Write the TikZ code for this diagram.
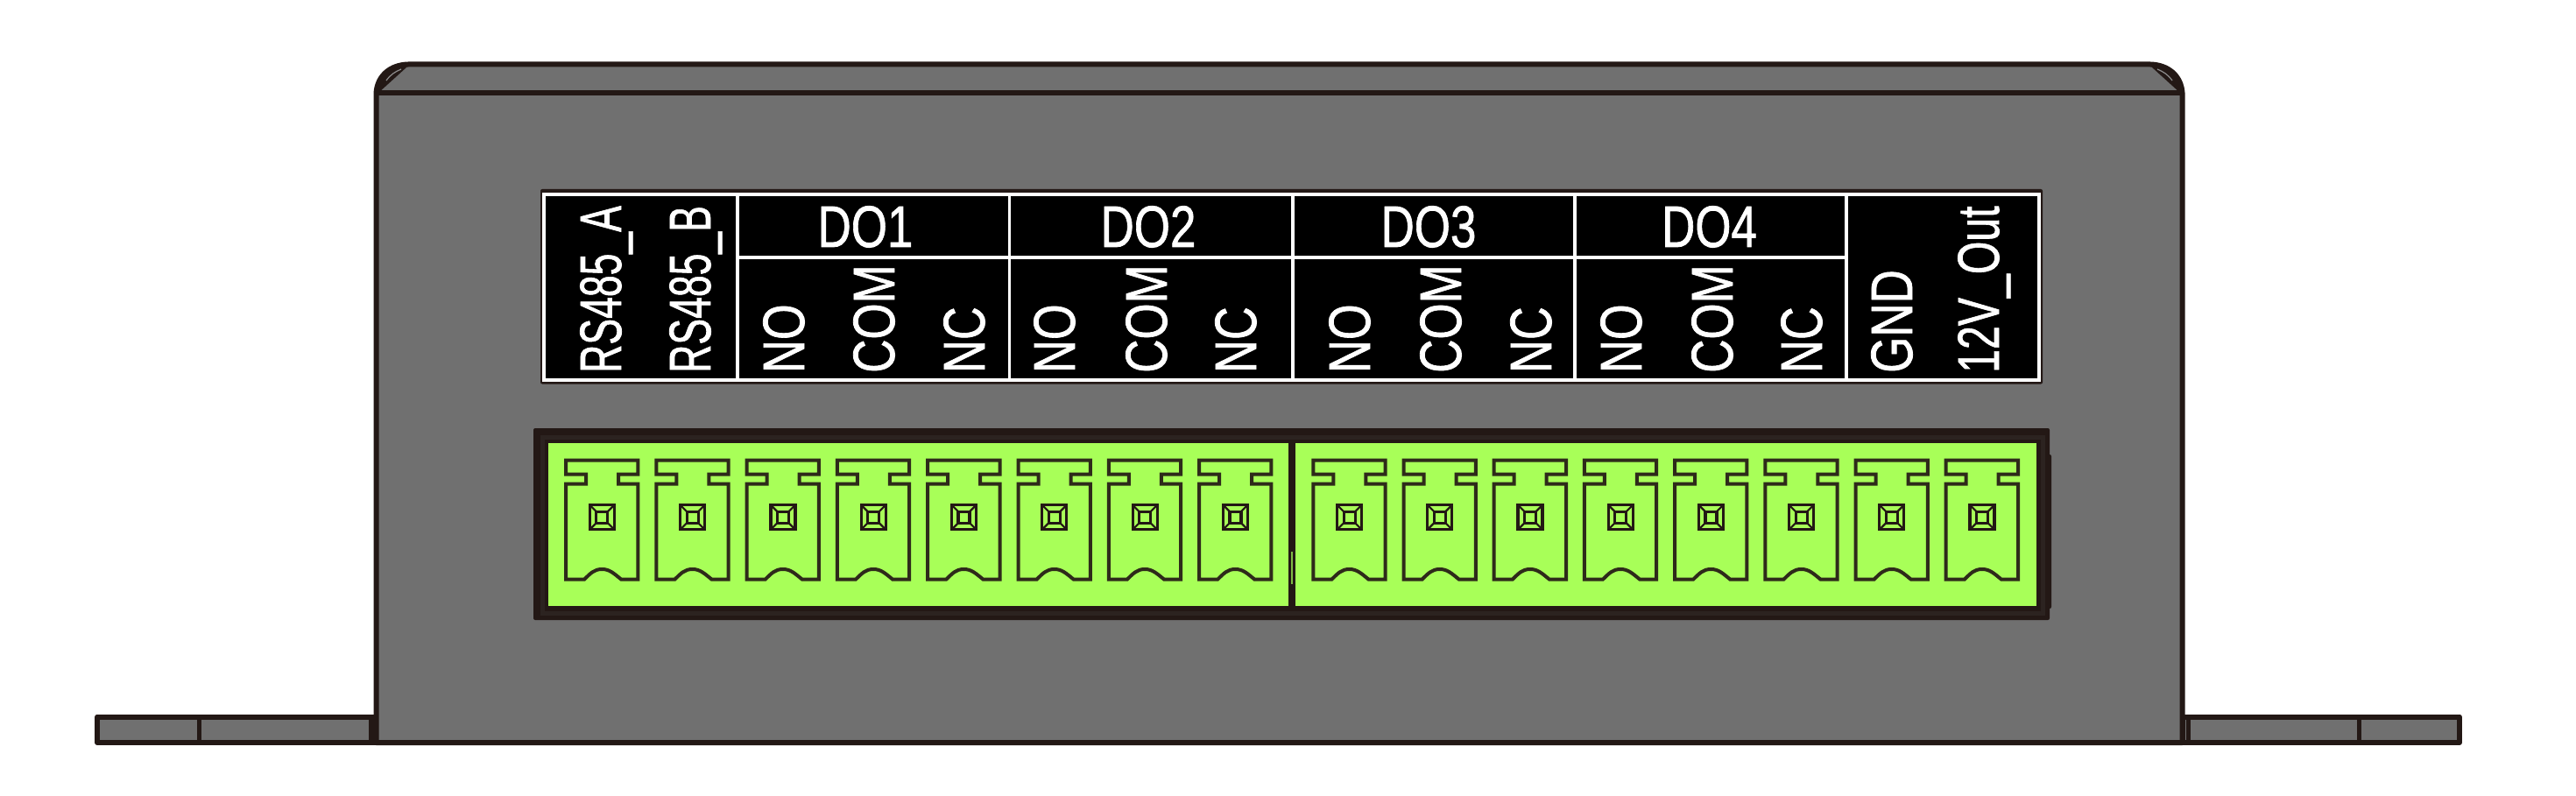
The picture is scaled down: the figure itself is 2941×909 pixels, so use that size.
\documentclass[tikz,border=0pt]{standalone}
\usepackage{fontspec}
\setmainfont[FakeBold=1.2]{Liberation Sans}
\definecolor{bodygrey}{HTML}{707070}
\definecolor{ink}{HTML}{231815}
\definecolor{inkb}{HTML}{2C2320}
\definecolor{termgreen}{HTML}{A8FF58}
\newcommand{\lab}[2]{\scalebox{#1}[1]{#2}}
\tikzset{
  x=1pt,y=-1pt,
  housing/.style={draw=ink,line width=6pt,fill=bodygrey,line join=round},
  flange/.style={draw=ink,line width=6pt,fill=bodygrey,line join=round},
  gridline/.style={draw=white,line width=3.5pt},
  tlabel/.style={text=white,inner sep=0pt,font=\fontsize{67}{67}\selectfont},
  vlabel/.style={tlabel,rotate=90,anchor=base west},
  hlabel/.style={tlabel,anchor=base},
  pinline/.style={draw=ink!92!termgreen,line width=4pt,line join=miter},
  squareline/.style={draw=ink,line width=3.2pt},
  squarefine/.style={draw=ink,line width=2.2pt},
}
\begin{document}
\begin{tikzpicture}
\useasboundingbox (0,0) rectangle (2941,909);
% flanges
\draw[flange] (111,818.5) rectangle (429,848);
\draw[flange] (2492,818.5) rectangle (2808,848);
\draw[ink,line width=5pt] (227,818.5) -- (227,848);
\draw[ink,line width=5pt] (2693,818.5) -- (2693,848);
\draw[ink,line width=5pt] (423,818.5) -- (423,848);
\draw[ink,line width=5pt] (2498,818.5) -- (2498,848);
% housing
\draw[housing] (429.5,848) -- (429.5,106) .. controls (431,86) and (446,74) .. (466,73.5)
  -- (2455,73.5) .. controls (2475,74) and (2490,86) .. (2491.5,106) -- (2491.5,848) -- cycle;
\draw[ink,line width=6pt] (429.5,106.5) -- (2491.5,106.5);
% corner chamfers
\fill[ink] (432,106) .. controls (433,88) and (447,76) .. (466,73.5) -- (464,77) -- cycle;
\fill[ink] (2489,106) .. controls (2488,88) and (2474,76) .. (2455,73.5) -- (2457,77) -- cycle;
\draw[bodygrey!80!white,line width=1.2pt] (441,92) .. controls (446,85) and (451,82) .. (458,79);
\draw[bodygrey!80!white,line width=1.2pt] (2480,92) .. controls (2475,85) and (2470,82) .. (2463,79);
% label table
\fill[ink,rounded corners=2pt] (617,216) rectangle (2332,438.5);
\fill[black] (621,221) rectangle (2328,434);
\draw[gridline] (621,222) rectangle (2328,434);
\draw[gridline] (842,222) -- (842,434);
\draw[gridline] (1152.5,222) -- (1152.5,434);
\draw[gridline] (1476,222) -- (1476,434);
\draw[gridline] (1798,222) -- (1798,434);
\draw[gridline] (2108,222) -- (2108,434);
\draw[gridline] (842,294) -- (2108,294);
\node[vlabel] (rsa) at (709,426) {\lab{.665}{RS485\_A}};
\node[vlabel] (rsb) at (811,426) {\lab{.665}{RS485\_B}};
\node[hlabel] (do1) at (988,282) {\lab{.79}{DO1}};
\node[hlabel] (do2) at (1311,282) {\lab{.79}{DO2}};
\node[hlabel] (do3) at (1631,282) {\lab{.79}{DO3}};
\node[hlabel] (do4) at (1951.5,282) {\lab{.79}{DO4}};
\foreach \nm/\a/\b/\c in {p/918/1021/1124,q/1227/1332/1434,r/1564/1668/1771,s/1874/1978/2080}{
  \node[vlabel] (\nm no) at (\a,426) {\lab{.78}{NO}};
  \node[vlabel] (\nm com) at (\b,426) {\lab{.79}{COM}};
  \node[vlabel] (\nm nc) at (\c,426) {\lab{.78}{NC}};
}
\node[vlabel] (gnd) at (2183,426) {\lab{.79}{GND}};
\node[vlabel] (out) at (2282,426) {\lab{.72}{12V\_Out}};
% terminal block
\fill[ink,rounded corners=2pt] (2338,519) rectangle (2342,695);
\fill[ink,rounded corners=2pt] (609,489) rectangle (2340,708);
\draw[inkb,line width=5pt] (619,499) rectangle (2332,700);
\fill[termgreen] (626,506) rectangle (2325,692);
\fill[ink] (1471,506) rectangle (1479,692);
\draw[termgreen!70!ink,line width=1.6pt] (1475,630) -- (1475,667);
\foreach \px in {646,749.3,852.6,955.9,1059.2,1162.5,1265.8,1369.1,
                 1499.3,1602.5,1705.7,1808.9,1912.1,2015.3,2118.5,2221.7}{
  \begin{scope}[shift={(\px,0)}]
    \draw[pinline] (0,525.5) -- (82.3,525.5) -- (82.3,541.5) -- (60,541.5) -- (60,552.7) -- (82.3,552.7)
      -- (82.3,661.7) -- (63.3,661.7) .. controls (55,655) and (50,650) .. (41.3,650)
      .. controls (32,650) and (28,655) .. (21,661.7) -- (0,661.7) -- (0,552.7) -- (23,552.7)
      -- (23,541.5) -- (0,541.5) -- cycle;
    \draw[squareline] (27.3,576.7) rectangle (55.3,604.7);
    \draw[squareline] (34.8,584.2) rectangle (47.8,597.2);
    \draw[squarefine] (27.3,576.7) -- (34.8,584.2) (55.3,576.7) -- (47.8,584.2)
      (27.3,604.7) -- (34.8,597.2) (55.3,604.7) -- (47.8,597.2);
  \end{scope}
}
\end{tikzpicture}
\end{document}
